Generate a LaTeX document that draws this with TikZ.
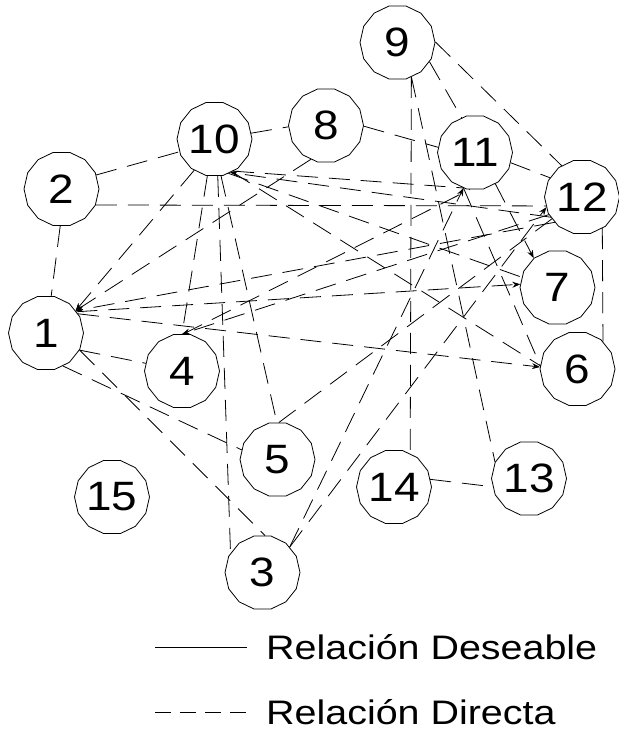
\documentclass[tikz,border=0pt]{standalone}
\usepackage{fontspec}
\setmainfont{Liberation Sans}
\newfontfamily\numfont[FakeStretch=1.12]{Liberation Sans}
\newfontfamily\keyfont[FakeStretch=1.16]{Liberation Sans}
\usetikzlibrary{arrows.meta,shapes.geometric}
\tikzset{
  factor/.style={draw=black,regular polygon,regular polygon sides=14,
                 minimum size=75pt,inner sep=0pt,line width=0.8pt,
                 font=\numfont\fontsize{41pt}{41pt}\selectfont},
  rel/.style={line width=0.8pt,dash pattern=on 21pt off 11pt},
  relarr/.style={rel,-{Stealth[length=8pt,width=6pt]}},
  wish/.style={line width=0.8pt},
  keydash/.style={line width=0.8pt,dash pattern=on 16pt off 9pt},
  keytext/.style={anchor=base west,inner sep=0pt,
                  font=\keyfont\fontsize{34pt}{34pt}\selectfont}
}
\begin{document}
\begin{tikzpicture}[x=1pt,y=-1pt]
  \useasboundingbox (0,0) rectangle (618,735);
  \node[factor] (n1) at (46,333) {1};
  \node[factor] (n2) at (61.5,189) {2};
  \node[factor] (n3) at (262.5,572.5) {3};
  \node[factor] (n4) at (182,371) {4};
  \node[factor] (n5) at (277.5,459.5) {5};
  \node[factor] (n6) at (577.5,369) {6};
  \node[factor] (n7) at (557.5,287.5) {7};
  \node[factor] (n8) at (326,125.5) {8};
  \node[factor] (n9) at (397.5,42.5) {9};
  \node[factor] (n10) at (214.5,139) {10};
  \node[factor] (n11) at (475,152.5) {11};
  \node[factor] (n12) at (582,197) {12};
  \node[factor] (n13) at (529,478.5) {13};
  \node[factor] (n14) at (394,487) {14};
  \node[factor] (n15) at (112,497) {15};

  % relaciones directas
  \draw[rel] (n2.22) -- (n10.200); \draw[rel] (n10.9) -- (n8.182);
  \draw[rel] (n2.-25) -- (n12.194); \draw[rel] (n2.-92) -- (n1.82);
  \draw[rel] (n1.-27) -- (n4.168); \draw[rel] (n8.-1) -- (n11.172);
  \draw[rel] (n9.-31) -- (n11.111); \draw[rel] (n9.1) -- (n12.123);
  \draw[rel] (n11.-16) -- (n12.149); \draw[rel] (n12.-57) -- (n6.47);
  \draw[rel] (n14.12) -- (n13.193); \draw[rel] (n9.-68) -- (n14.64);
  \draw[rel] (n9.-68) -- (n13.154); \draw[rel] (n1.-63) -- (n5.165);
  \draw[rel] (n1.-27) -- (n3.86); \draw[rel] (n10.-101) -- (n4.90);
  \draw[rel] (n10.-85) -- (n3.149); \draw[rel] (n10.-80) -- (n5.91);
  \draw[relarr] (n10.-123) -- (n1.37); \draw[rel] (n8.-114) -- (n1.37);
  \draw[relarr] (n1.31) -- (n6.177); \draw[relarr] (n1.35) -- (n7.175);
  \draw[relarr] (n12.223) -- (n1.37); \draw[relarr] (n3.43) -- (n12.196);
  \draw[relarr] (n3.43) -- (n11.-108); \draw[rel] (n5.88) -- (n12.216);
  \draw[relarr] (n12.208) -- (n4.90); \draw[rel] (n4.88) -- (n11.-98);
  \draw[rel] (n10.-60) -- (n11.-108); \draw[relarr] (n12.213) -- (n10.-65);
  \draw[rel] (n10.-68) -- (n7.164); \draw[rel] (n10.-62) -- (n6.175);
  \draw[relarr] (n11.-57) -- (n7.129); \draw[rel] (n11.-108) -- (n6.175);

  % leyenda
  \coordinate (kA) at (155,647); \coordinate (kB) at (247,647);
  \coordinate (kC) at (155,712); \coordinate (kD) at (247,712);
  \draw[wish] (kA) -- (kB); \draw[keydash] (kC) -- (kD);
  \node[keytext] (kwish) at (266,659) {Relación Deseable};
  \node[keytext] (kdirect) at (266,724) {Relación Directa};
\end{tikzpicture}
\end{document}
